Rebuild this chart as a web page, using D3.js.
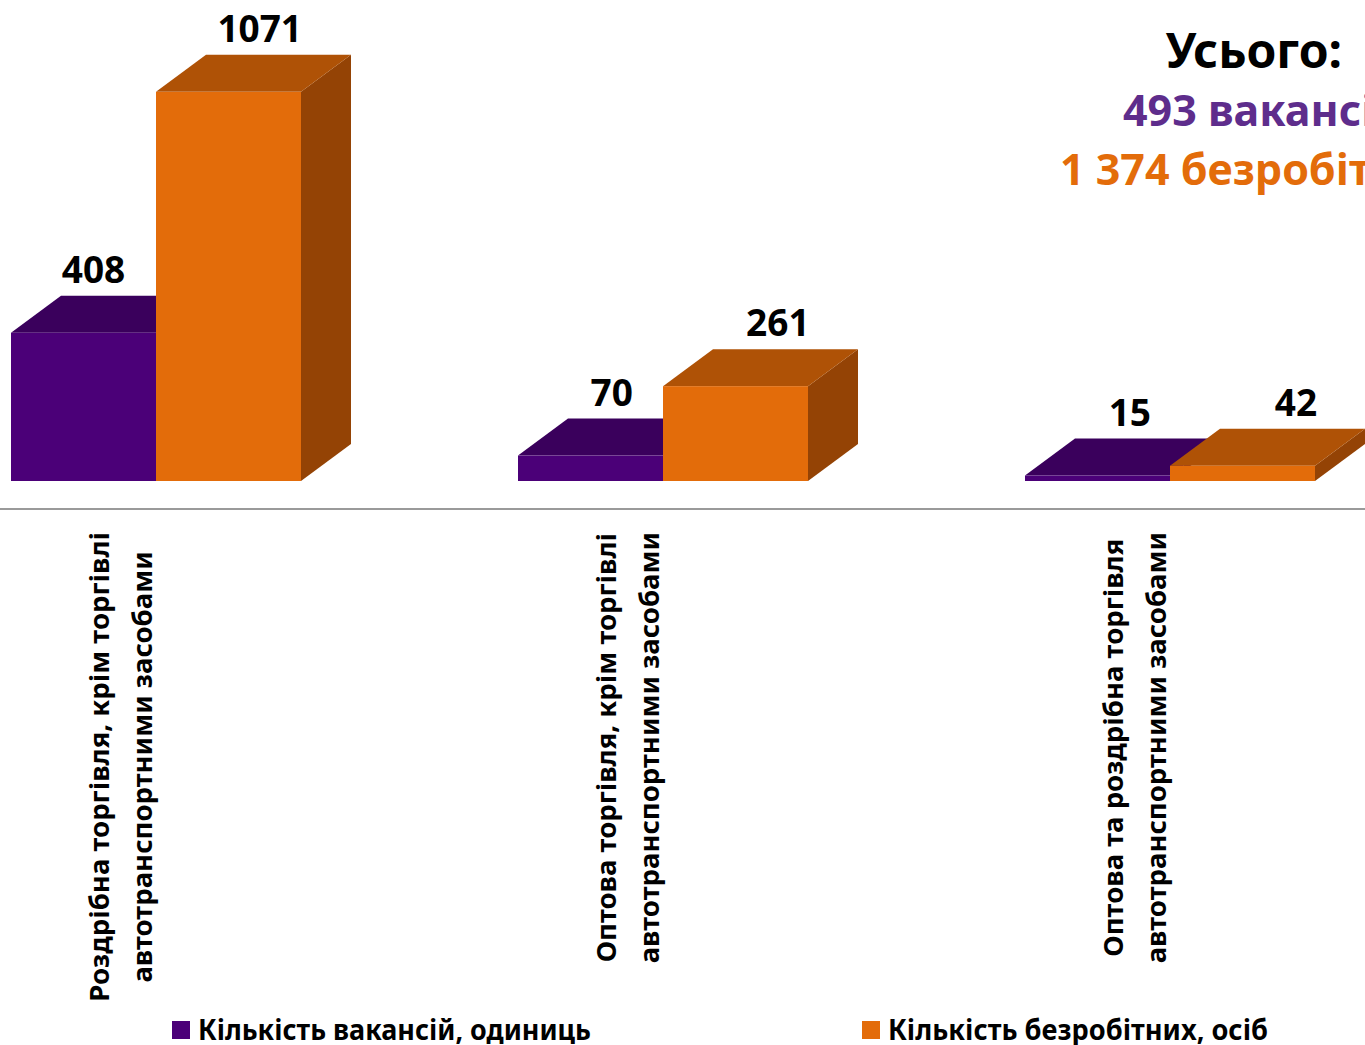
<!DOCTYPE html>
<html><head><meta charset="utf-8">
<script src="https://cdn.jsdelivr.net/npm/d3@7"></script>
<style>html,body{margin:0;padding:0;background:#fff;overflow:hidden}svg{display:block}</style>
</head><body>
<svg id="c" width="1365" height="1045"></svg>
<script>
const categories = [
  ["Роздрібна торгівля, крім торгівлі", "автотранспортними засобами"],
  ["Оптова торгівля, крім торгівлі", "автотранспортними засобами"],
  ["Оптова та роздрібна торгівля", "автотранспортними засобами"]
];
const seriesNames = ["Кількість вакансій, одиниць", "Кількість безробітних, осіб"];
const vacancies = [408, 70, 15];
const unemployed = [1071, 261, 42];
const totalTitle = "Усього:";
const totalVacancies = "493 вакансії";
const totalUnemployed = "1 374 безробітних";

const front = ["#4B0078", "#E36C0A"];
const top_ = ["#3A005C", "#AF5206"];
const side = ["#33004F", "#944305"];

const svg = d3.select("#c");
const W = 1365, H = 1045;
const font = "'Noto Sans', sans-serif";
const dx = 50, dy = 37;

const catIdx = categories.map((d, i) => i);
const x0 = d3.scaleBand().domain(catIdx).range([11, 1315]).paddingInner(0.428).paddingOuter(0);
const x1 = d3.scaleBand().domain([0, 1]).range([0, x0.bandwidth()]);
const y = d3.scaleLinear().domain([0, 1200]).range([481, 481 - 436]);

// axis line
svg.append("line").attr("x1", 0).attr("x2", W).attr("y1", 509).attr("y2", 509)
  .attr("stroke", "#9a9a9a").attr("stroke-width", 2);

const data = [];
catIdx.forEach(i => {
  [vacancies[i], unemployed[i]].forEach((v, s) => data.push({ c: i, s, v }));
});

const g = svg.append("g");
data.forEach(d => {
  const xl = x0(d.c) + x1(d.s), xr = xl + x1.bandwidth();
  const yt = y(d.v), yb = y(0);
  g.append("path").attr("d", `M${xr},${yb}L${xr + dx},${yb - dy}L${xr + dx},${yt - dy}L${xr},${yt}Z`).attr("fill", side[d.s]);
  g.append("path").attr("d", `M${xl},${yt}L${xl + dx},${yt - dy}L${xr + dx},${yt - dy}L${xr},${yt}Z`).attr("fill", top_[d.s]);
  g.append("rect").attr("x", xl).attr("y", yt).attr("width", xr - xl).attr("height", yb - yt).attr("fill", front[d.s]);
});

// value labels
data.forEach(d => {
  const cx = x0(d.c) + x1(d.s) + x1.bandwidth() / 2;
  const off = 10 + 0.022 * (cx - 83) + (d.s === 1 ? 18 : 0);
  svg.append("text").attr("x", cx + off).attr("y", y(d.v) - dy - 13)
    .attr("text-anchor", "middle").attr("font-family", font).attr("font-weight", "bold")
    .attr("font-size", 37).attr("fill", "#000").text(d.v);
});

// category labels (rotated)
catIdx.forEach(i => {
  const cx = x0(i) + x0.bandwidth() / 2 - 35;
  const gg = svg.append("g");
  const lines = categories[i];
  const texts = lines.map((t, k) => gg.append("text")
    .attr("font-family", font).attr("font-weight", "bold").attr("font-size", 27.5)
    .attr("fill", "#000").attr("text-anchor", "middle").text(t));
  const maxLen = d3.max(texts, t => t.node().getComputedTextLength());
  const cy = 532 + maxLen / 2;
  texts.forEach((t, k) => {
    const lx = cx - 12 + k * 43;
    t.attr("transform", `translate(${lx},${cy}) rotate(-90)`);
  });
});

// totals
svg.append("text").attr("x", 1342).attr("y", 68).attr("text-anchor", "end")
  .attr("font-family", font).attr("font-weight", "bold").attr("font-size", 48).attr("fill", "#000").text(totalTitle);
svg.append("text").attr("x", 1123).attr("y", 126)
  .attr("font-family", font).attr("font-weight", "bold").attr("font-size", 43).attr("fill", "#5E2D8C").text(totalVacancies);
svg.append("text").attr("x", 1060).attr("y", 185)
  .attr("font-family", font).attr("font-weight", "bold").attr("font-size", 43).attr("fill", "#E36C0A").text(totalUnemployed);

// legend
const legX = [172, 862], legW = [393, 380];
seriesNames.forEach((n, s) => {
  svg.append("rect").attr("x", legX[s]).attr("y", 1021).attr("width", 18).attr("height", 18).attr("fill", front[s]);
  svg.append("text").attr("x", legX[s] + 26).attr("y", 1040)
    .attr("font-family", font).attr("font-weight", "bold").attr("font-size", 28)
    .attr("textLength", legW[s]).attr("lengthAdjust", "spacingAndGlyphs").attr("fill", "#000").text(n);
});
</script>
</body></html>
